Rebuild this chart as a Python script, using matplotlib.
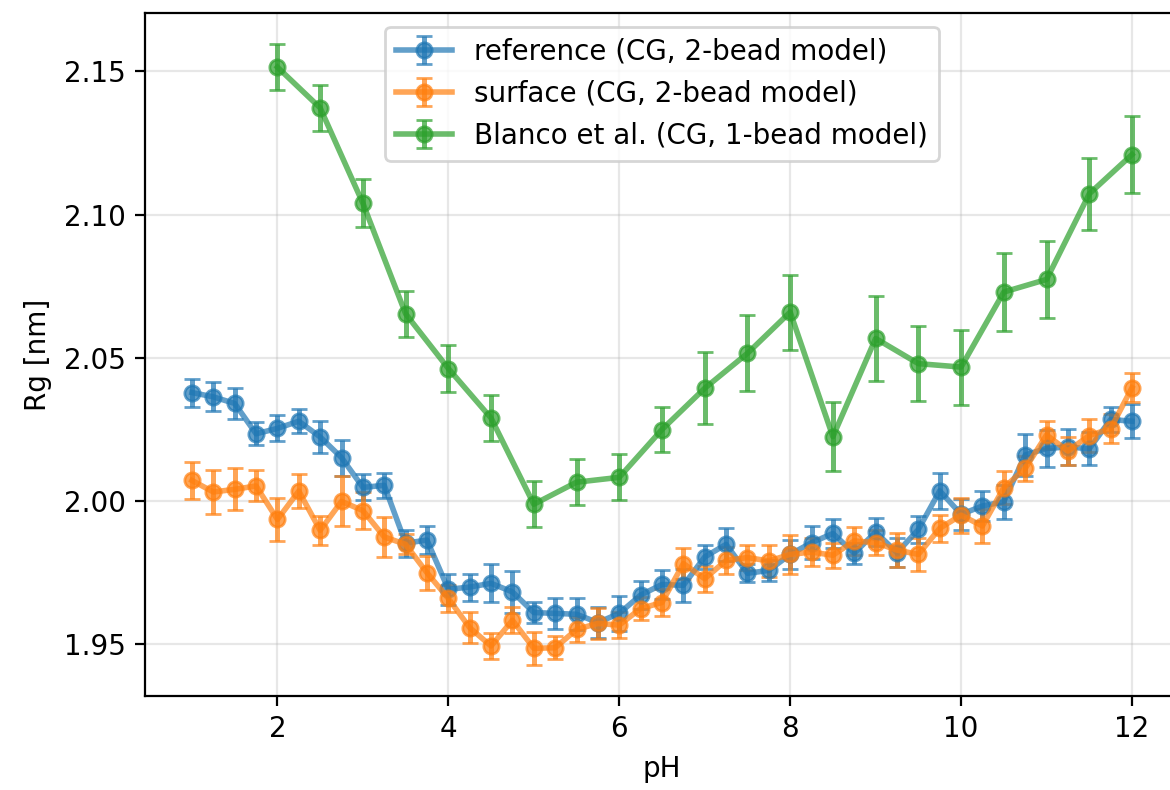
import numpy as np
import matplotlib
matplotlib.use("Agg")
import matplotlib.pyplot as plt

# pH grid
ph_fine = np.arange(1.0, 12.01, 0.25)
ph_coarse = np.arange(2.0, 12.01, 0.5)

# reference (CG, 2-bead model)
ref_rg = [2.0379, 2.0364, 2.0341, 2.0235, 2.0254, 2.0279, 2.0224, 2.0152, 2.0048,
          2.0055, 1.9853, 1.9864, 1.9692, 1.9700, 1.9713, 1.9683, 1.9611, 1.9608,
          1.9605, 1.9576, 1.9608, 1.9672, 1.9709, 1.9706, 1.9805, 1.9849, 1.9748,
          1.9758, 1.9814, 1.9855, 1.9887, 1.9818, 1.9892, 1.9820, 1.9901, 2.0036,
          1.9954, 1.9983, 1.9998, 2.0161, 2.0184, 2.0189, 2.0183, 2.0285, 2.0279]
ref_err = [0.0049, 0.0051, 0.0055, 0.0040, 0.0045, 0.0042, 0.0055, 0.0063, 0.0045,
           0.0044, 0.0047, 0.0050, 0.0055, 0.0047, 0.0066, 0.0073, 0.0036, 0.0055,
           0.0055, 0.0055, 0.0062, 0.0048, 0.0051, 0.0058, 0.0042, 0.0058, 0.0031,
           0.0038, 0.0050, 0.0058, 0.0051, 0.0037, 0.0050, 0.0051, 0.0048, 0.0063,
           0.0055, 0.0054, 0.0060, 0.0073, 0.0065, 0.0062, 0.0058, 0.0042, 0.0060]

# surface (CG, 2-bead model)
surf_rg = [2.0072, 2.0032, 2.0041, 2.0053, 1.9936, 2.0035, 1.9898, 1.9999, 1.9967,
           1.9875, 1.9849, 1.9750, 1.9660, 1.9558, 1.9494, 1.9584, 1.9486, 1.9488,
           1.9552, 1.9573, 1.9567, 1.9625, 1.9646, 1.9782, 1.9729, 1.9793, 1.9803,
           1.9791, 1.9814, 1.9822, 1.9811, 1.9861, 1.9855, 1.9829, 1.9814, 1.9905,
           1.9951, 1.9913, 2.0047, 2.0114, 2.0231, 2.0175, 2.0229, 2.0253, 2.0396]
surf_err = [0.0065, 0.0076, 0.0073, 0.0054, 0.0074, 0.0058, 0.0051, 0.0087, 0.0065,
            0.0070, 0.0035, 0.0060, 0.0047, 0.0054, 0.0044, 0.0045, 0.0058, 0.0040,
            0.0044, 0.0055, 0.0046, 0.0041, 0.0047, 0.0053, 0.0046, 0.0047, 0.0045,
            0.0056, 0.0068, 0.0050, 0.0044, 0.0050, 0.0044, 0.0059, 0.0057, 0.0048,
            0.0061, 0.0060, 0.0057, 0.0044, 0.0049, 0.0049, 0.0056, 0.0051, 0.0051]

# Blanco et al. (CG, 1-bead model)
blanco_rg = [2.1515, 2.1373, 2.1040, 2.0654, 2.0463, 2.0290, 1.9989, 2.0066, 2.0083,
             2.0250, 2.0394, 2.0516, 2.0660, 2.0225, 2.0568, 2.0480, 2.0468, 2.0730,
             2.0774, 2.1073, 2.1210]
blanco_err = [0.0081, 0.0081, 0.0084, 0.0080, 0.0083, 0.0081, 0.0080, 0.0080, 0.0080,
              0.0078, 0.0126, 0.0133, 0.0131, 0.0120, 0.0148, 0.0130, 0.0131, 0.0136,
              0.0135, 0.0126, 0.0134]

fig = plt.figure(figsize=(5.85, 3.95), dpi=200)
ax = fig.add_axes([0.1239, 0.119, 0.8838, 0.8646])

style = dict(marker='o', markersize=5.5, capsize=3, alpha=0.7, lw=2, elinewidth=1.8)
ax.errorbar(ph_fine, ref_rg, yerr=ref_err, label='reference (CG, 2-bead model)', **style)
ax.errorbar(ph_fine, surf_rg, yerr=surf_err, label='surface (CG, 2-bead model)', **style)
ax.errorbar(ph_coarse, blanco_rg, yerr=blanco_err, label='Blanco et al. (CG, 1-bead model)', **style)

ax.set_xlabel("pH")
ax.set_ylabel("Rg [nm]")
ax.set_yticks([1.95, 2.00, 2.05, 2.10, 2.15])
ax.grid(True, alpha=0.3)
ax.legend(loc='upper center')

fig.savefig("out.png", dpi=200)
